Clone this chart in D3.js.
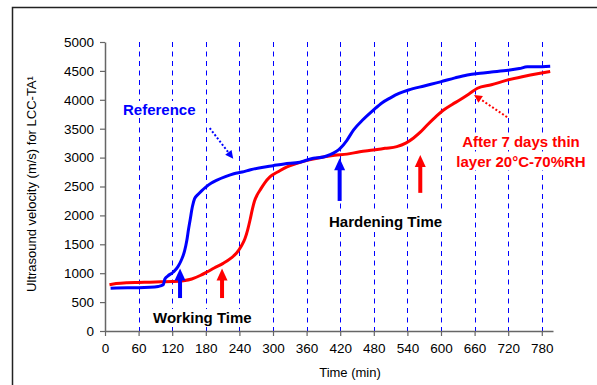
<!DOCTYPE html>
<html>
<head>
<meta charset="utf-8">
<script src="https://cdn.jsdelivr.net/npm/d3@7"></script>
<style>
  html, body { margin: 0; padding: 0; background: #fff; }
  svg { display: block; font-family: Arial, "Liberation Sans", sans-serif; }
</style>
</head>
<body>
<svg id="chart" width="597" height="385"></svg>
<script>
// Ultrasound velocity of LCC-TA over time (min)
const xTicks = [0, 60, 120, 180, 240, 300, 360, 420, 480, 540, 600, 660, 720, 780];
const yTicks = [0, 500, 1000, 1500, 2000, 2500, 3000, 3500, 4000, 4500, 5000];

// Reference sample
const refTime = [10, 20, 40, 60, 80, 95, 104, 107, 112, 122, 130, 136, 142, 146, 149, 152, 156, 160, 166, 172, 180, 190, 200, 215, 230, 245, 260, 280, 300, 320, 348, 372, 390, 402, 412, 420, 432, 444, 460, 479, 495, 509, 525, 542, 570, 599, 625, 647, 670, 690, 720, 740, 754, 770, 795];
const refVel  = [740, 745, 750, 750, 755, 770, 800, 900, 950, 1020, 1110, 1220, 1380, 1560, 1750, 1920, 2150, 2290, 2360, 2420, 2490, 2560, 2610, 2670, 2720, 2750, 2790, 2830, 2860, 2890, 2920, 2990, 3010, 3050, 3100, 3160, 3300, 3480, 3650, 3820, 3950, 4030, 4110, 4170, 4240, 4310, 4380, 4430, 4460, 4480, 4510, 4540, 4570, 4570, 4580];

// After 7 days, thin layer, 20°C - 70%RH
const agedTime = [8, 20, 40, 60, 80, 100, 120, 140, 155, 170, 182, 195, 211, 225, 235, 244, 250, 255, 259, 263, 267, 272, 277, 285, 295, 310, 325, 343, 365, 390, 410, 432, 455, 479, 500, 521, 537, 551, 563, 575, 590, 604, 620, 634, 650, 665, 690, 718, 745, 777, 795];
const agedVel  = [800, 820, 835, 840, 845, 850, 855, 870, 900, 960, 1020, 1090, 1170, 1260, 1350, 1480, 1600, 1760, 1920, 2100, 2250, 2360, 2440, 2560, 2670, 2760, 2840, 2900, 2960, 3010, 3040, 3060, 3100, 3130, 3160, 3190, 3250, 3340, 3440, 3560, 3700, 3820, 3920, 4000, 4100, 4200, 4260, 4340, 4400, 4460, 4490];

// Marker arrows: time, velocity at tail, velocity at tip
const arrowTime  = [134, 209, 419, 563];
const arrowFrom  = [570, 570, 2250, 2390];
const arrowTo    = [1080, 1080, 2990, 3045];
const arrowColor = ["#0000ff", "#ff0000", "#0000ff", "#ff0000"];

// Dotted pointers from the series labels: [t0, v0, t1, v1]
const pointerRef  = [187, 3510, 229, 2980];
const pointerAged = [718, 3700, 659, 4085];

const svg = d3.select("#chart");

// Outer frame
svg.append("rect")
  .attr("x", 12.5).attr("y", 7.5)
  .attr("width", 620).attr("height", 420)
  .attr("fill", "none").attr("stroke", "#222").attr("stroke-width", 1.5);

const x = d3.scaleLinear().domain([0, 800]).range([105, 553]);
const y = d3.scaleLinear().domain([0, 5000]).range([331, 42]);

// Vertical dashed grid
svg.append("g").selectAll("line")
  .data(xTicks.filter(d => d > 0))
  .join("line")
  .attr("x1", d => Math.round(x(d)) + 0.5).attr("x2", d => Math.round(x(d)) + 0.5)
  .attr("y1", y(5000)).attr("y2", y(0))
  .attr("stroke", "#0000ff").attr("stroke-width", 1)
  .attr("stroke-dasharray", "5,4.5");

// Axes
const xAxis = svg.append("g")
  .attr("transform", `translate(0,${y(0)})`)
  .call(d3.axisBottom(x).tickValues(xTicks).tickFormat(d3.format("d"))
    .tickSize(5).tickPadding(7).tickSizeOuter(0));
const yAxis = svg.append("g")
  .attr("transform", `translate(${x(0)},0)`)
  .call(d3.axisLeft(y).tickValues(yTicks).tickFormat(d3.format("d"))
    .tickSize(5).tickPadding(6).tickSizeOuter(0));
[xAxis, yAxis].forEach(g => {
  g.select(".domain").attr("stroke", "#666").attr("stroke-width", 1.5);
  g.selectAll(".tick line").attr("stroke", "#666").attr("stroke-width", 1.2);
  g.selectAll("text").attr("font-size", 13.5).attr("fill", "#000")
    .attr("font-family", "Arial, 'Liberation Sans', sans-serif");
});

// Axis titles
svg.append("text")
  .attr("x", 350).attr("y", 377)
  .attr("text-anchor", "middle").attr("font-size", 13)
  .text("Time (min)");
svg.append("text")
  .attr("transform", `translate(36,184) rotate(-90)`)
  .attr("text-anchor", "middle").attr("font-size", 13)
  .text("Ultrasound velocity (m/s) for LCC-TA¹");

// Series
const line = d3.line().x(d => x(d[0])).y(d => y(d[1])).curve(d3.curveMonotoneX);
svg.append("path")
  .datum(agedTime.map((t, i) => [t, agedVel[i]]))
  .attr("d", line).attr("fill", "none")
  .attr("stroke", "#ff0000").attr("stroke-width", 3);
svg.append("path")
  .datum(refTime.map((t, i) => [t, refVel[i]]))
  .attr("d", line).attr("fill", "none")
  .attr("stroke", "#0000ff").attr("stroke-width", 3);

// Solid marker arrows
arrowTime.forEach((t, i) => {
  const cx = x(t), yTail = y(arrowFrom[i]), yTip = y(arrowTo[i]);
  const headH = 12, headW = 5.5;
  svg.append("line")
    .attr("x1", cx).attr("x2", cx)
    .attr("y1", yTail).attr("y2", yTip + headH - 1)
    .attr("stroke", arrowColor[i]).attr("stroke-width", 4);
  svg.append("path")
    .attr("d", `M${cx},${yTip} L${cx - headW},${yTip + headH} L${cx + headW},${yTip + headH} Z`)
    .attr("fill", arrowColor[i]);
});

// Dotted pointers with heads
function pointer(p, color) {
  const x0 = x(p[0]), y0 = y(p[1]), x1 = x(p[2]), y1 = y(p[3]);
  const ang = Math.atan2(y1 - y0, x1 - x0);
  const hl = 8, hw = 4;
  const bx = x1 - hl * Math.cos(ang), by = y1 - hl * Math.sin(ang);
  svg.append("line")
    .attr("x1", x0).attr("y1", y0).attr("x2", bx).attr("y2", by)
    .attr("stroke", color).attr("stroke-width", 2)
    .attr("stroke-dasharray", "2,2");
  const px = -Math.sin(ang), py = Math.cos(ang);
  svg.append("path")
    .attr("d", `M${x1},${y1} L${bx + px * hw},${by + py * hw} L${bx - px * hw},${by - py * hw} Z`)
    .attr("fill", color);
}
pointer(pointerRef, "#0000ff");
pointer(pointerAged, "#ff0000");

// Annotations on white boxes that mask the grid
const notes = svg.append("g");
function bold(tx, ty, str, color, anchor) {
  const bg = notes.append("rect").attr("fill", "#fff");
  const t = notes.append("text")
    .attr("x", tx).attr("y", ty).attr("text-anchor", anchor || "start")
    .attr("font-size", 15).attr("font-weight", "bold").attr("fill", color).text(str);
  const b = t.node().getBBox();
  bg.attr("x", b.x - 2).attr("y", b.y).attr("width", b.width + 4).attr("height", b.height);
}
bold(123, 115, "Reference", "#0000ff");
bold(153, 323, "Working Time", "#000");
bold(329, 227, "Hardening Time", "#000");
bold(521, 147, "After 7 days thin", "#ff0000", "middle");
bold(521, 167, "layer 20°C-70%RH", "#ff0000", "middle");
</script>
</body>
</html>
